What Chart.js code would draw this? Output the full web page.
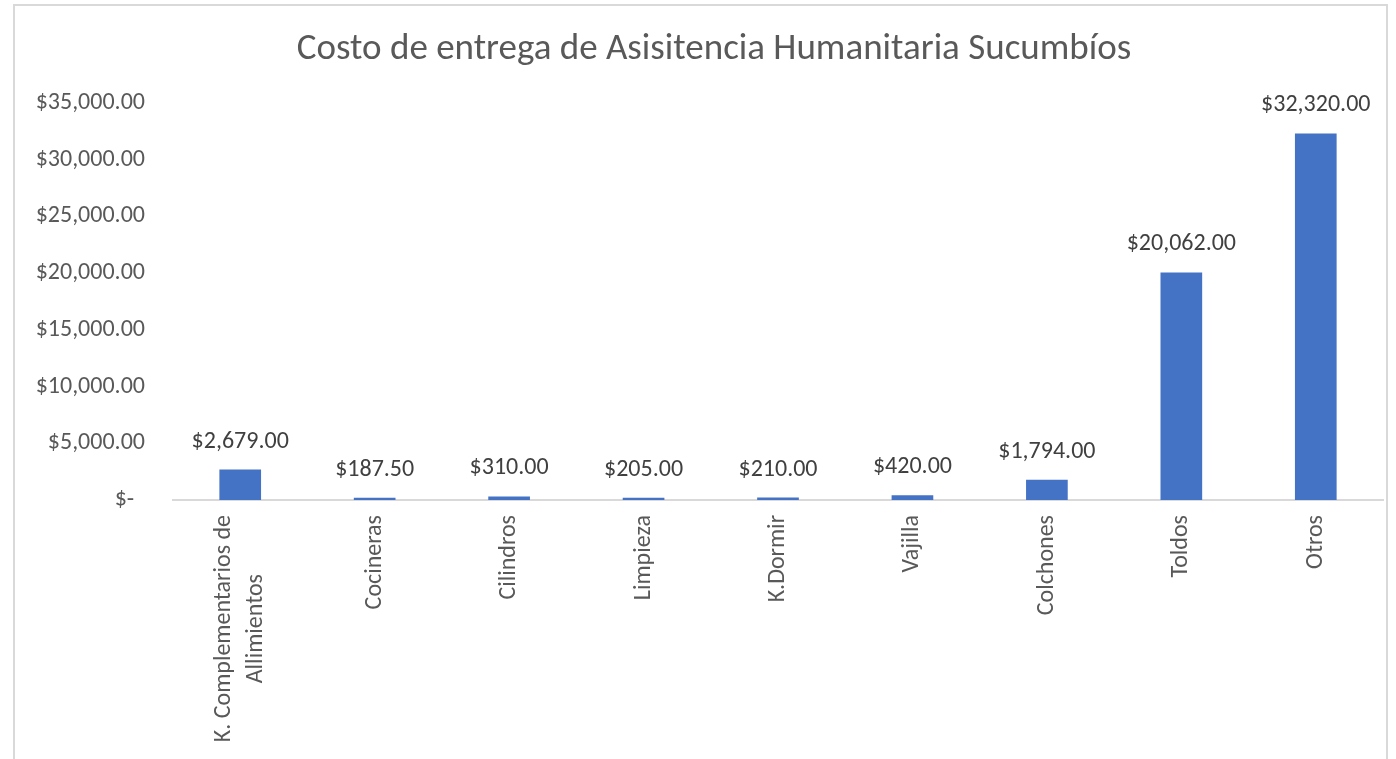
<!DOCTYPE html>
<html><head><meta charset="utf-8">
<script src="https://cdn.jsdelivr.net/npm/chart.js@4.4.1/dist/chart.umd.min.js"></script>
<style>
html,body{margin:0;padding:0;background:#fff;overflow:hidden}
#frame{position:absolute;left:13px;top:4px;width:1375px;height:800px;border:2px solid #d9d9d9;box-sizing:border-box}
#c{position:absolute;left:0;top:0}
</style></head><body>
<div id="frame"></div>
<canvas id="c" width="1396" height="759"></canvas>
<script>
const chartTitle = "Costo de entrega de Asisitencia Humanitaria Sucumbíos";
const categories = [["K. Complementarios de", "Allimientos"], "Cocineras", "Cilindros", "Limpieza", "K.Dormir", "Vajilla", "Colchones", "Toldos", "Otros"];
const costs = [2679, 187.5, 310, 205, 210, 420, 1794, 20062, 32320];
const yMax = 35000;
const yStep = 5000;

const FONT = "Carlito, Lato, 'Noto Sans', sans-serif";
const TXT = 24;

function money(v) {
  if (v === 0) return "$-  ";
  return "$" + v.toLocaleString("en-US", {minimumFractionDigits: 2, maximumFractionDigits: 2});
}

const chartHeading = {
  id: "chartHeading",
  afterDraw(chart) {
    const ctx = chart.ctx;
    ctx.save();
    ctx.font = "37px " + FONT;
    ctx.fillStyle = "#595959";
    ctx.textAlign = "center";
    ctx.textBaseline = "middle";
    ctx.fillText(chartTitle, 714, 50);
    ctx.restore();
  }
};

const valueLabels = {
  id: "valueLabels",
  afterDatasetsDraw(chart) {
    const ctx = chart.ctx;
    const meta = chart.getDatasetMeta(0);
    ctx.save();
    ctx.font = TXT + "px " + FONT;
    ctx.fillStyle = "#404040";
    ctx.textAlign = "center";
    ctx.textBaseline = "middle";
    meta.data.forEach((bar, i) => {
      ctx.fillText(money(costs[i]), bar.x, bar.y - 28);
    });
    ctx.restore();
  }
};

const xLabels = {
  id: "xLabels",
  afterDraw(chart) {
    const sc = chart.scales.x;
    const ctx = chart.ctx;
    ctx.save();
    ctx.font = TXT + "px " + FONT;
    ctx.fillStyle = "#595959";
    ctx.textAlign = "center";
    ctx.textBaseline = "middle";
    const lh = 32;
    categories.forEach((lab, i) => {
      const lines = Array.isArray(lab) ? lab : [lab];
      const maxW = Math.max(...lines.map(l => ctx.measureText(l).width));
      const x = sc.getPixelForValue(i);
      const top = sc.top + 15;
      ctx.save();
      ctx.translate(x, top);
      ctx.rotate(-Math.PI / 2);
      lines.forEach((l, j) => ctx.fillText(l, -maxW / 2, (j - (lines.length - 1) / 2) * lh));
      ctx.restore();
    });
    ctx.restore();
  }
};

new Chart(document.getElementById("c"), {
  type: "bar",
  data: {
    labels: categories,
    datasets: [{
      data: costs,
      backgroundColor: "#4472C4",
      barPercentage: 0.31,
      categoryPercentage: 1
    }]
  },
  options: {
    responsive: false,
    animation: false,
    layout: {padding: {left: 0, right: 13, top: 103, bottom: 0}},
    plugins: {
      legend: {display: false},
      tooltip: {enabled: false},
      title: {display: false}
    },
    scales: {
      x: {
        grid: {display: false},
        border: {display: true, color: "#d9d9d9", width: 2},
        ticks: {display: false},
        afterFit(scale) { scale.height = 259; }
      },
      y: {
        min: 0,
        max: yMax,
        grid: {display: false, drawTicks: false},
        border: {display: false},
        ticks: {
          stepSize: yStep,
          padding: 28,
          color: "#595959",
          font: {family: FONT, size: TXT},
          callback: v => money(v)
        },
        afterFit(scale) { scale.width = 173; }
      }
    }
  },
  plugins: [chartHeading, valueLabels, xLabels]
});
</script>
</body></html>
